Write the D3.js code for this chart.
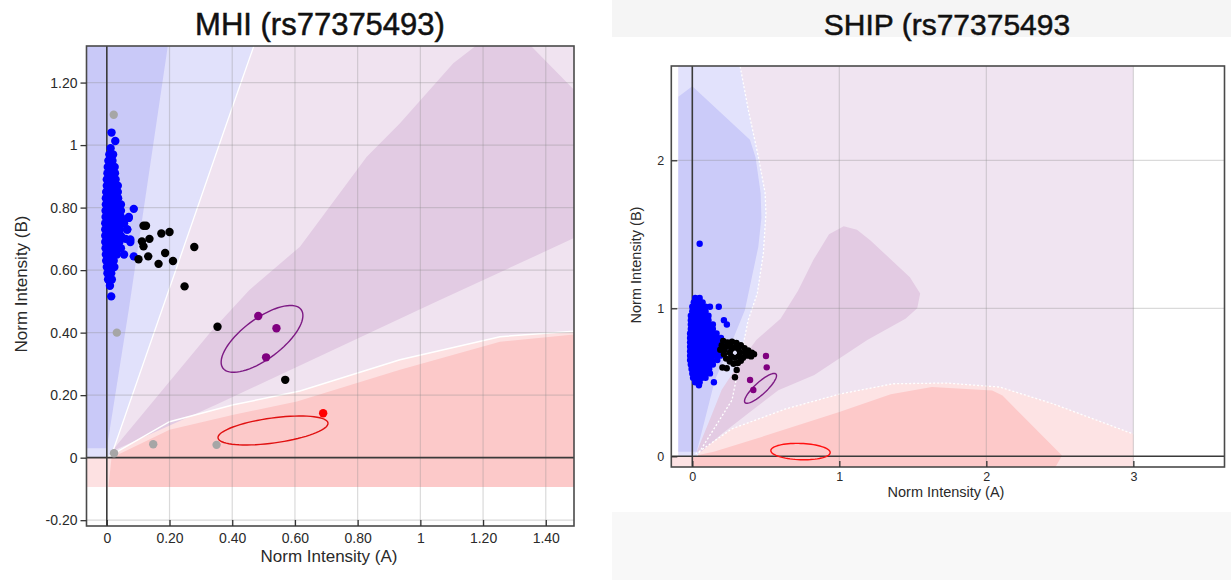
<!DOCTYPE html>
<html><head><meta charset="utf-8">
<script src="https://cdn.jsdelivr.net/npm/d3@7"></script>
<style>
html,body{margin:0;padding:0;background:#fff;}
svg{display:block;font-family:"Liberation Sans",Arial,sans-serif;}
</style></head>
<body><svg id="c" width="1231" height="580"></svg>
<script>
// ---------------- DATA ----------------
const titleLeft = "MHI (rs77375493)";
const titleRight = "SHIP (rs77375493";
const axisLabelA = "Norm Intensity (A)";
const axisLabelB = "Norm Intensity (B)";

const leftXTicks = [0, 0.2, 0.4, 0.6, 0.8, 1, 1.2, 1.4];
const leftXTickLabels = ["0", "0.20", "0.40", "0.60", "0.80", "1", "1.20", "1.40"];
const leftYTicks = [-0.2, 0, 0.2, 0.4, 0.6, 0.8, 1, 1.2];
const leftYTickLabels = ["-0.20", "0", "0.20", "0.40", "0.60", "0.80", "1", "1.20"];
const rightXTicks = [0, 1, 2, 3];
const rightXTickLabels = ["0", "1", "2", "3"];
const rightYTicks = [0, 1, 2];
const rightYTickLabels = ["0", "1", "2"];

// Left (MHI) cluster rows: [y, x1, x2, ...]
const leftBlueRows = [
  [1.04, 0.015], [1.013, 0.027], [0.99, 0.012], [0.97, 0.008, 0.02], [0.95, 0.005, 0.018],
  [0.93, 0.003, 0.015, 0.025], [0.91, 0.002, 0.014, 0.026], [0.89, 0.0, 0.012, 0.028],
  [0.87, 0.0, 0.012, 0.025, 0.035], [0.85, -0.002, 0.01, 0.022, 0.035],
  [0.83, -0.003, 0.01, 0.022, 0.036], [0.81, -0.003, 0.008, 0.02, 0.033, 0.045],
  [0.79, -0.004, 0.008, 0.02, 0.032, 0.045], [0.77, -0.004, 0.008, 0.02, 0.032, 0.045, 0.07],
  [0.75, -0.005, 0.006, 0.018, 0.03, 0.042, 0.055], [0.73, -0.005, 0.006, 0.018, 0.03, 0.042, 0.065],
  [0.71, -0.005, 0.006, 0.018, 0.03, 0.045], [0.69, -0.005, 0.006, 0.018, 0.03, 0.04, 0.075],
  [0.67, -0.004, 0.007, 0.018, 0.03, 0.045], [0.65, -0.003, 0.008, 0.02, 0.032, 0.055],
  [0.63, -0.002, 0.01, 0.022], [0.61, 0.0, 0.012, 0.024], [0.59, 0.002, 0.014],
  [0.57, 0.004, 0.016], [0.55, 0.01], [0.516, 0.014],
  [0.796, 0.086], [0.767, 0.07], [0.698, 0.075], [0.73, 0.065], [0.644, 0.086], [0.70, 0.06], [0.76, 0.05]
];
const leftBlack = [
  [0.101, 0.635], [0.117, 0.742], [0.125, 0.742], [0.112, 0.692], [0.117, 0.676], [0.136, 0.70],
  [0.132, 0.644], [0.174, 0.717], [0.20, 0.722], [0.186, 0.655], [0.165, 0.62], [0.211, 0.629],
  [0.279, 0.674], [0.248, 0.548], [0.353, 0.419], [0.569, 0.249]
];
const leftPurple = [[0.483, 0.453], [0.541, 0.414], [0.508, 0.321]];
const leftRed = [[0.69, 0.142]];
const leftGray = [[0.022, 1.097], [0.032, 0.40], [0.023, 0.014], [0.148, 0.043], [0.35, 0.041]];
// ellipses: [cx, cy, semi-major, semi-minor, angle(deg)]
const leftPurpleEllipse = [0.495, 0.38, 0.156, 0.064, 37];
const leftRedEllipse = [0.53, 0.087, 0.177, 0.040, 7.8];

// Left cluster regions (boundary points)
const leftLavender = [[-0.07, -0.094], [1.5, -0.094], [1.5, 1.32], [-0.07, 1.32]];
const leftLightPink = [[-0.07, -0.094], [-0.07, 0.0], [0.0, 0.0], [0.2, 0.115], [0.404, 0.169], [0.616, 0.213],
  [0.935, 0.313], [1.254, 0.387], [1.5, 0.405], [1.5, -0.094]];
const leftDarkPink = [[0.005, -0.094], [0.015, 0.0], [0.2, 0.089], [0.404, 0.137], [0.606, 0.18],
  [0.935, 0.281], [1.254, 0.371], [1.5, 0.395], [1.5, -0.094]];
const leftLightBlue = [[-0.07, 0.0], [0.012, 0.0], [0.176, 0.473], [0.379, 1.06], [0.47, 1.32], [-0.07, 1.32]];
const leftDarkBlue = [[-0.07, 0.03], [0.0, 0.03], [0.07, 0.473], [0.16, 1.083], [0.195, 1.32], [-0.07, 1.32]];
const leftPurpleZone = [[0.015, 0.02], [0.329, 0.40], [0.454, 0.536], [0.616, 0.675], [0.829, 0.963],
  [0.935, 1.07], [1.105, 1.262], [1.18, 1.32], [1.35, 1.32], [1.49, 1.177], [1.5, 1.17],
  [1.5, 0.707], [1.04, 0.494], [0.616, 0.295], [0.35, 0.17]];

// Right (SHIP) cluster rows: [y, x1, x2, ...]
const rightBlueRows = [
  [1.436, 0.05],
  [1.07, 0.02, 0.05], [1.04, 0.01, 0.04, 0.07], [1.01, 0.0, 0.03, 0.06, 0.09, 0.12, 0.18],
  [0.98, 0.0, 0.03, 0.06, 0.09], [0.95, -0.01, 0.02, 0.05, 0.08, 0.11],
  [0.92, -0.01, 0.02, 0.05, 0.08, 0.11, 0.215], [0.89, -0.01, 0.02, 0.05, 0.08, 0.11, 0.14, 0.235],
  [0.86, -0.01, 0.02, 0.05, 0.08, 0.11, 0.14], [0.83, -0.015, 0.015, 0.045, 0.075, 0.105, 0.135, 0.165],
  [0.80, -0.015, 0.015, 0.045, 0.075, 0.105, 0.135, 0.165, 0.195],
  [0.77, -0.015, 0.015, 0.045, 0.075, 0.105, 0.135, 0.165, 0.195, 0.22],
  [0.74, -0.015, 0.015, 0.045, 0.075, 0.105, 0.135, 0.165, 0.195, 0.225],
  [0.71, -0.015, 0.015, 0.045, 0.075, 0.105, 0.135, 0.165, 0.195],
  [0.68, -0.015, 0.015, 0.045, 0.075, 0.105, 0.135, 0.165, 0.19],
  [0.65, -0.015, 0.015, 0.045, 0.075, 0.105, 0.135, 0.17],
  [0.62, -0.01, 0.02, 0.05, 0.08, 0.11, 0.14], [0.59, -0.005, 0.025, 0.055, 0.085, 0.115],
  [0.56, 0.0, 0.03, 0.06, 0.09, 0.12], [0.53, 0.005, 0.035, 0.065, 0.09],
  [0.50, 0.02, 0.05, 0.147], [0.48, 0.045]
];
const rightBlack = [
  [0.21, 0.78], [0.24, 0.77], [0.27, 0.775], [0.30, 0.765], [0.33, 0.75], [0.355, 0.73], [0.38, 0.715],
  [0.405, 0.70], [0.40, 0.675], [0.37, 0.68], [0.345, 0.665], [0.33, 0.645], [0.31, 0.63], [0.28, 0.625],
  [0.255, 0.64], [0.23, 0.66], [0.215, 0.69], [0.22, 0.72], [0.235, 0.745], [0.2, 0.75], [0.19, 0.72],
  [0.205, 0.60], [0.234, 0.595], [0.302, 0.583], [0.29, 0.534], [0.26, 0.755], [0.42, 0.69], [0.36, 0.70],
  [0.255, 0.70], [0.29, 0.735], [0.325, 0.70], [0.29, 0.665], [0.265, 0.725], [0.315, 0.725],
  [0.265, 0.675], [0.315, 0.675]
];
const rightPurple = [[0.501, 0.678], [0.506, 0.601], [0.393, 0.516], [0.415, 0.448]];
const rightPurpleEllipse = [0.464, 0.459, 0.143, 0.04, 42.5];
const rightRedEllipse = [0.736, 0.032, 0.202, 0.055, -2];

// Right cluster regions (boundary points)
const rightLavender = [[-0.095, -0.08], [3.0, -0.08], [3.0, 2.7], [-0.095, 2.7]];
const rightLightPinkTop = [[0.0, 0.0], [0.27, 0.186], [0.635, 0.32], [1.0, 0.42], [1.365, 0.49], [1.73, 0.495],
  [2.09, 0.468], [2.45, 0.356], [2.815, 0.22], [3.0, 0.15]];
const rightLightPink = [[-0.15, -0.08], [-0.15, 0.0]].concat(rightLightPinkTop, [[3.0, -0.08]]);
const rightDarkPink = [[0.0, -0.08], [0.0, 0.0], [0.146, 0.03], [0.5, 0.14], [1.0, 0.30], [1.35, 0.42],
  [1.63, 0.468], [2.04, 0.445], [2.11, 0.41], [2.515, 0.005], [2.466, -0.08]];
const rightLightBlueEdge = [[0.03, 0.0], [0.27, 0.38], [0.38, 0.92], [0.442, 1.10], [0.483, 1.37], [0.501, 1.64],
  [0.495, 1.78], [0.449, 2.025], [0.381, 2.34], [0.313, 2.7]];
const rightLightBlue = [[-0.095, 0.0]].concat(rightLightBlueEdge, [[-0.095, 2.7]]);
const rightDarkBlue = [[-0.095, 0.03], [0.03, 0.03], [0.154, 0.516], [0.28, 0.8], [0.358, 0.989], [0.449, 1.416],
  [0.47, 1.61], [0.465, 1.777], [0.43, 2.02], [0.392, 2.138], [0.0, 2.50], [-0.095, 2.43]];
const rightPurpleZone = [[0.03, 0.03], [0.12, 0.25], [0.2, 0.45], [0.3, 0.6], [0.435, 0.785], [0.6, 0.93],
  [0.72, 1.12], [0.823, 1.326], [0.93, 1.5], [1.03, 1.555], [1.12, 1.53], [1.21, 1.46], [1.48, 1.21],
  [1.55, 1.10], [1.53, 1.0], [1.45, 0.93], [1.19, 0.785], [0.83, 0.55], [0.585, 0.447], [0.39, 0.297],
  [0.2, 0.15], [0.06, 0.03]];

// ---------------- DRAW ----------------
const svg = d3.select("#c");
const rowsToPoints = rows => rows.flatMap(r => r.slice(1).map(x => [x, r[0]]));

// gray bands of right panel
svg.append("rect").attr("x", 612).attr("y", 0).attr("width", 619).attr("height", 37).attr("fill", "#f5f5f5");
svg.append("rect").attr("x", 612).attr("y", 512).attr("width", 619).attr("height", 68).attr("fill", "#f8f8f8");

function ellipsePts(e) {
  const [cx, cy, a, b, deg] = e, th = deg * Math.PI / 180, pts = [];
  for (let i = 0; i <= 72; i++) {
    const t = i / 72 * 2 * Math.PI;
    const u = a * Math.cos(t), v = b * Math.sin(t);
    pts.push([cx + u * Math.cos(th) - v * Math.sin(th), cy + u * Math.sin(th) + v * Math.cos(th)]);
  }
  return pts;
}

function chart(o) {
  const g = svg.append("g");
  const x = d3.scaleLinear().domain(o.xDom).range(o.xRange);
  const y = d3.scaleLinear().domain(o.yDom).range(o.yRange);
  const line = d3.line().x(d => x(d[0])).y(d => y(d[1]));
  const cid = "clip" + o.id;
  svg.append("defs").append("clipPath").attr("id", cid).append("rect")
    .attr("x", o.xRange[0]).attr("y", o.yRange[1])
    .attr("width", o.xRange[1] - o.xRange[0]).attr("height", o.yRange[0] - o.yRange[1]);
  const p = g.append("g").attr("clip-path", `url(#${cid})`);
  o.regions.forEach(r => p.append("path").attr("d", line(r.pts) + "Z").attr("fill", r.fill));
  o.edges.forEach(e => p.append("path").attr("d", line(e.pts)).attr("fill", "none")
    .attr("stroke", "#fff").attr("stroke-width", e.w).attr("stroke-dasharray", e.dash || null));
  // grid
  o.gridX.forEach(v => p.append("line").attr("x1", x(v)).attr("x2", x(v)).attr("y1", o.yRange[0]).attr("y2", o.yRange[1])
    .attr("stroke", "rgba(140,140,140,0.32)").attr("stroke-width", 1.2));
  o.gridY.forEach(v => p.append("line").attr("y1", y(v)).attr("y2", y(v)).attr("x1", o.xRange[0]).attr("x2", o.xRange[1])
    .attr("stroke", "rgba(140,140,140,0.32)").attr("stroke-width", 1.2));
  // zero lines
  p.append("line").attr("x1", x(0)).attr("x2", x(0)).attr("y1", o.yRange[0]).attr("y2", o.yRange[1])
    .attr("stroke", "#3a3a3a").attr("stroke-width", 1.6);
  p.append("line").attr("y1", y(0)).attr("y2", y(0)).attr("x1", o.xRange[0]).attr("x2", o.xRange[1])
    .attr("stroke", "#3a3a3a").attr("stroke-width", 1.6);
  // ellipses
  o.ellipses.forEach(e => p.append("path").attr("d", line(ellipsePts(e.e)) + "Z").attr("fill", "none")
    .attr("stroke", e.color).attr("stroke-width", 1.4));
  // points
  o.points.forEach(s => p.append("g").selectAll("circle").data(s.pts).join("circle")
    .attr("cx", d => x(d[0])).attr("cy", d => y(d[1])).attr("r", o.r).attr("fill", s.color));
  // frame
  g.append("rect").attr("x", o.xRange[0]).attr("y", o.yRange[1])
    .attr("width", o.xRange[1] - o.xRange[0]).attr("height", o.yRange[0] - o.yRange[1])
    .attr("fill", "none").attr("stroke", "#4a4a4a").attr("stroke-width", 1.6);
  // axes
  const ax = g.append("g").attr("transform", `translate(0,${o.yRange[0]})`)
    .call(d3.axisBottom(x).tickValues(o.xTicks).tickFormat((d, i) => o.xLabels[i])
      .tickSize(o.xTickSize).tickPadding(o.xPad));
  const ay = g.append("g").attr("transform", `translate(${o.xRange[0]},0)`)
    .call(d3.axisLeft(y).tickValues(o.yTicks).tickFormat((d, i) => o.yLabels[i])
      .tickSize(o.yTickSize).tickPadding(o.yPad));
  [ax, ay].forEach(a => {
    a.select(".domain").remove();
    a.selectAll("line").attr("stroke", "#333").attr("stroke-width", 1.3);
    a.selectAll("text").attr("fill", "#2a2a2a").style("font-size", o.tickFont + "px")
      .style("font-family", '"Liberation Sans", Arial, sans-serif');
  });
  // titles
  g.append("text").attr("x", o.titleX).attr("y", o.titleY).attr("text-anchor", "middle")
    .style("font-size", o.titleFont + "px").attr("fill", "#111")
    .attr("stroke", "#111").attr("stroke-width", 0.5).text(o.title);
  g.append("text").attr("x", o.xLabX).attr("y", o.xLabY).attr("text-anchor", "middle")
    .style("font-size", o.labFont + "px").attr("fill", "#2a2a2a").text(axisLabelA);
  g.append("text").attr("transform", `translate(${o.yLabX},${o.yLabY}) rotate(-90)`).attr("text-anchor", "middle")
    .style("font-size", o.labFont + "px").attr("fill", "#2a2a2a").text(axisLabelB);
}

chart({
  id: "L", xDom: [-0.0648, 1.49], xRange: [86.5, 574], yDom: [-0.2186, 1.317], yRange: [526, 46],
  regions: [
    { pts: leftLavender, fill: "#f0e3f0" },
    { pts: leftLightPink, fill: "#fde1e2" },
    { pts: leftDarkPink, fill: "#fcc9c9" },
    { pts: leftLightBlue, fill: "#e1e1fb" },
    { pts: leftDarkBlue, fill: "#c9c9f8" },
    { pts: leftPurpleZone, fill: "#e2cbe3" }
  ],
  edges: [
    { pts: [[0.012, 0.0], [0.176, 0.473], [0.379, 1.06], [0.47, 1.32]], w: 1.3 },
    { pts: leftLightPink.slice(2, 9), w: 1.5 }
  ],
  gridX: leftXTicks.filter(v => v !== 0), gridY: leftYTicks.filter(v => v !== 0),
  ellipses: [{ e: leftPurpleEllipse, color: "#7d1a84" }, { e: leftRedEllipse, color: "#e01010" }],
  points: [
    { pts: rowsToPoints(leftBlueRows), color: "#0000ff" },
    { pts: leftGray, color: "#a6a6a6" },
    { pts: leftBlack, color: "#000" },
    { pts: leftPurple, color: "#800080" },
    { pts: leftRed, color: "#ff0000" }
  ],
  r: 4.2,
  xTicks: leftXTicks, xLabels: leftXTickLabels, yTicks: leftYTicks, yLabels: leftYTickLabels,
  xTickSize: -6, xPad: 7, yTickSize: 6, yPad: 3, tickFont: 14,
  title: titleLeft, titleX: 320, titleY: 35, titleFont: 31,
  xLabX: 329, xLabY: 562, yLabX: 27, yLabY: 284, labFont: 17
});

chart({
  id: "R", xDom: [-0.1429, 3.62], xRange: [671.3, 1224.5], yDom: [-0.0723, 2.637], yRange: [467, 66],
  regions: [
    { pts: rightLavender, fill: "#f0e4f1" },
    { pts: rightLightPink, fill: "#fde3e4" },
    { pts: rightDarkPink, fill: "#fdc9c9" },
    { pts: rightLightBlue, fill: "#e2e2fc" },
    { pts: rightDarkBlue, fill: "#cbcbf9" },
    { pts: rightPurpleZone, fill: "#e3cbe3" }
  ],
  edges: [
    { pts: rightLightBlueEdge, w: 1.3, dash: "2,2" },
    { pts: rightLightPinkTop, w: 1.3, dash: "2,2" }
  ],
  gridX: [1, 2, 3], gridY: [1, 2],
  ellipses: [{ e: rightPurpleEllipse, color: "#7d1a84" }, { e: rightRedEllipse, color: "#ff1010" }],
  points: [
    { pts: rowsToPoints(rightBlueRows), color: "#0000ff" },
    { pts: rightBlack, color: "#000" },
    { pts: rightPurple, color: "#800080" }
  ],
  r: 3.2,
  xTicks: rightXTicks, xLabels: rightXTickLabels, yTicks: rightYTicks, yLabels: rightYTickLabels,
  xTickSize: -6, xPad: 5, yTickSize: -6, yPad: 7, tickFont: 12.5,
  title: titleRight, titleX: 947, titleY: 35, titleFont: 30,
  xLabX: 946, xLabY: 497, yLabX: 641, yLabY: 265, labFont: 14.5
});
</script></body></html>
